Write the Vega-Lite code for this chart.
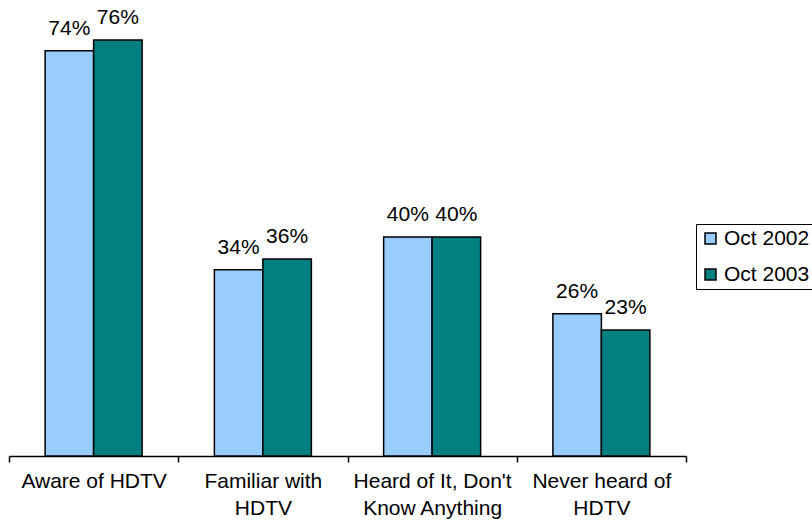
{
  "$schema": "https://vega.github.io/schema/vega-lite/v6.json",
  "autosize": "none",
  "width": 677,
  "height": 438,
  "padding": {"left": 9, "top": 18, "right": 126, "bottom": 67},
  "background": "white",
  "config": {
    "view": {"stroke": null},
    "font": "Liberation Sans"
  },
  "data": {
    "values": [
      {"category": "Aware of HDTV", "series": "Oct 2002", "value": 0.74},
      {"category": "Aware of HDTV", "series": "Oct 2003", "value": 0.76},
      {"category": "Familiar with|HDTV", "series": "Oct 2002", "value": 0.34},
      {"category": "Familiar with|HDTV", "series": "Oct 2003", "value": 0.36},
      {"category": "Heard of It, Don't|Know Anything", "series": "Oct 2002", "value": 0.40},
      {"category": "Heard of It, Don't|Know Anything", "series": "Oct 2003", "value": 0.40},
      {"category": "Never heard of|HDTV", "series": "Oct 2002", "value": 0.26},
      {"category": "Never heard of|HDTV", "series": "Oct 2003", "value": 0.23}
    ]
  },
  "encoding": {
    "x": {
      "field": "category",
      "type": "nominal",
      "sort": null,
      "scale": {"paddingInner": 0, "paddingOuter": 0},
      "axis": {
        "title": null,
        "labelAngle": 0,
        "labelExpr": "split(datum.label, '|')",
        "labelFontSize": 21,
        "labelColor": "black",
        "labelLineHeight": 27,
        "labelPadding": 8,
        "labelLimit": 300,
        "domainColor": "black",
        "domainWidth": 1.5,
        "tickColor": "black",
        "tickWidth": 1.5,
        "tickSize": 6,
        "tickBand": "extent",
        "grid": false
      }
    },
    "xOffset": {
      "field": "series",
      "type": "nominal",
      "scale": {"paddingInner": 0, "paddingOuter": 0.745}
    },
    "y": {
      "field": "value",
      "type": "quantitative",
      "scale": {"domain": [0, 0.8]},
      "axis": null
    }
  },
  "layer": [
    {
      "mark": {"type": "bar", "stroke": "black", "strokeWidth": 1.5},
      "encoding": {
        "color": {
          "field": "series",
          "type": "nominal",
          "scale": {"domain": ["Oct 2002", "Oct 2003"], "range": ["#99CCFF", "#008080"]},
          "legend": {
            "title": null,
            "orient": "none",
            "legendX": 687,
            "legendY": 206,
            "strokeColor": "black",
            "padding": 4,
            "symbolType": "square",
            "symbolSize": 121,
            "symbolStrokeColor": "black",
            "symbolStrokeWidth": 1.5,
            "symbolOpacity": 1,
            "labelFontSize": 21,
            "labelColor": "black",
            "labelOffset": 3,
            "rowPadding": 14,
            "labelLimit": 200
          }
        }
      }
    },
    {
      "mark": {"type": "text", "baseline": "alphabetic", "dy": -16, "fontSize": 21, "color": "black"},
      "encoding": {
        "text": {"field": "value", "type": "quantitative", "format": ".0%"}
      }
    }
  ]
}
